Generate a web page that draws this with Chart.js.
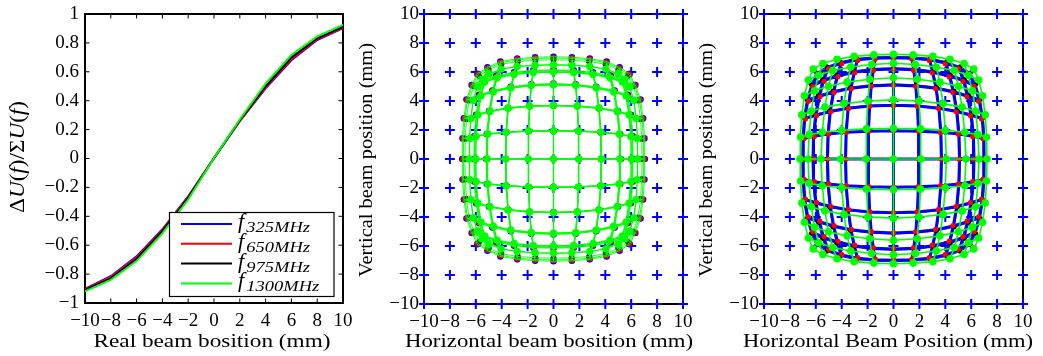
<!DOCTYPE html>
<html>
<head>
<meta charset="utf-8">
<script src="https://cdn.jsdelivr.net/npm/chart.js@4.4.1/dist/chart.umd.min.js"></script>
<style>
  html, body { margin: 0; padding: 0; background: #fff; }
  #wrap { position: relative; width: 1043px; height: 356px; overflow: hidden; background: #fff; }
  #wrap canvas { position: absolute; left: 0; top: 0; }
</style>
</head>
<body>
<div id="wrap">
  <canvas id="c1" width="1043" height="356"></canvas>
  <canvas id="c2" width="1043" height="356"></canvas>
  <canvas id="c3" width="1043" height="356"></canvas>
</div>
<script>
// Real beam positions (mm), shared by every panel
const positions = [-10, -8, -6, -4, -2, 0, 2, 4, 6, 8, 10];
const posTickLabels = ['\u221210', '\u22128', '\u22126', '\u22124', '\u22122', '0', '2', '4', '6', '8', '10'];
const ratioTickLabels = ['\u22121', '\u22120.8', '\u22120.6', '\u22120.4', '\u22120.2', '0', '0.2', '0.4', '0.6', '0.8', '1'];
const freqs = ['325', '650', '975', '1300'];

// Normalised difference signal dU/sumU versus real position
const ratio325  = [-0.903, -0.815, -0.677, -0.490, -0.262, 0.003, 0.258, 0.486, 0.680, 0.820, 0.902];
const ratio650  = [-0.906, -0.820, -0.684, -0.496, -0.266, 0.003, 0.261, 0.491, 0.688, 0.825, 0.906];
const ratio975  = [-0.911, -0.829, -0.695, -0.505, -0.273, 0.003, 0.265, 0.500, 0.700, 0.832, 0.912];
const ratio1300 = [-0.920, -0.840, -0.710, -0.518, -0.284, 0.003, 0.270, 0.518, 0.716, 0.845, 0.924];

// Measured position maps, one quadrant each (the maps are mirror-symmetric).
// row i = |index| on the other axis, column j = |index| along the axis -> measured |position| (mm)
const mapA325 = [
  [0, 1.95, 3.70, 5.20, 6.15, 7.05],
  [0, 1.93, 3.66, 5.15, 6.12, 7.02],
  [0, 1.85, 3.52, 4.98, 5.98, 6.92],
  [0, 1.72, 3.30, 4.72, 5.75, 6.72],
  [0, 1.56, 3.05, 4.42, 5.45, 6.32],
  [0, 1.42, 2.80, 4.10, 5.10, 5.88]
];
const mapA650 = [
  [0, 1.94, 3.68, 5.17, 6.11, 6.96],
  [0, 1.92, 3.64, 5.12, 6.08, 6.93],
  [0, 1.84, 3.50, 4.95, 5.94, 6.84],
  [0, 1.71, 3.28, 4.69, 5.71, 6.64],
  [0, 1.55, 3.03, 4.39, 5.41, 6.25],
  [0, 1.41, 2.78, 4.07, 5.06, 5.82]
];
const mapA975 = [
  [0, 1.93, 3.66, 5.13, 6.06, 6.84],
  [0, 1.91, 3.62, 5.08, 6.03, 6.81],
  [0, 1.83, 3.48, 4.91, 5.89, 6.72],
  [0, 1.70, 3.26, 4.65, 5.66, 6.53],
  [0, 1.54, 3.01, 4.35, 5.36, 6.15],
  [0, 1.40, 2.76, 4.03, 5.01, 5.73]
];
const mapA1300 = [
  [0, 1.95, 3.70, 5.12, 6.00, 6.50],
  [0, 1.93, 3.66, 5.07, 5.97, 6.47],
  [0, 1.85, 3.52, 4.90, 5.83, 6.38],
  [0, 1.72, 3.30, 4.64, 5.60, 6.20],
  [0, 1.56, 3.05, 4.35, 5.31, 5.88],
  [0, 1.42, 2.80, 4.04, 4.97, 5.50]
];
const mapB325 = [
  [0, 1.95, 3.70, 5.10, 6.20, 6.98],
  [0, 1.92, 3.65, 5.04, 6.15, 6.95],
  [0, 1.84, 3.50, 4.88, 5.98, 6.85],
  [0, 1.72, 3.28, 4.62, 5.72, 6.62],
  [0, 1.56, 3.02, 4.32, 5.40, 6.28],
  [0, 1.42, 2.78, 4.02, 5.05, 5.85]
];
const mapB650 = [
  [0, 1.94, 3.68, 5.07, 6.16, 6.93],
  [0, 1.91, 3.63, 5.01, 6.11, 6.90],
  [0, 1.83, 3.48, 4.85, 5.94, 6.80],
  [0, 1.71, 3.26, 4.59, 5.68, 6.57],
  [0, 1.55, 3.00, 4.29, 5.36, 6.23],
  [0, 1.41, 2.76, 3.99, 5.01, 5.80]
];
const mapB975 = [
  [0, 1.98, 3.76, 5.18, 6.30, 7.08],
  [0, 1.95, 3.71, 5.12, 6.25, 7.05],
  [0, 1.87, 3.56, 4.96, 6.08, 6.95],
  [0, 1.75, 3.34, 4.70, 5.82, 6.72],
  [0, 1.59, 3.08, 4.40, 5.50, 6.38],
  [0, 1.45, 2.84, 4.10, 5.15, 5.95]
];
const mapB1300 = [
  [0, 2.12, 4.08, 5.60, 6.60, 7.22],
  [0, 2.08, 4.00, 5.50, 6.52, 7.18],
  [0, 1.98, 3.82, 5.30, 6.35, 7.08],
  [0, 1.84, 3.58, 5.02, 6.10, 6.88],
  [0, 1.68, 3.30, 4.70, 5.78, 6.58],
  [0, 1.52, 3.04, 4.36, 5.45, 6.20]
];

const BLUE = '#0000ff', RED = '#ff0000', BLACK = '#000000', GREEN = '#00ff00';
const SERIF = '"Liberation Serif", "Times New Roman", serif';

// Expand a quadrant map into the full grid of measured points [rowIndex][colIndex]
function fullGrid(q) {
  const n = positions.length, c = (n - 1) / 2;
  const g = [];
  for (let r = 0; r < n; r++) {
    const row = [];
    for (let k = 0; k < n; k++) {
      const a = k - c, b = r - c;
      row.push({
        x: Math.sign(a) * q[Math.abs(b)][Math.abs(a)],
        y: Math.sign(b) * q[Math.abs(a)][Math.abs(b)]
      });
    }
    g.push(row);
  }
  return g;
}
// Rows then columns of the grid as one polyline set, broken by gaps
function gridLines(g) {
  const out = [], n = g.length;
  for (let r = 0; r < n; r++) { for (let k = 0; k < n; k++) out.push(g[r][k]); out.push({ x: NaN, y: NaN }); }
  for (let k = 0; k < n; k++) { for (let r = 0; r < n; r++) out.push(g[r][k]); out.push({ x: NaN, y: NaN }); }
  return out;
}
const realGrid = positions.flatMap(y => positions.map(x => ({ x, y })));

function axis(min, max, step, labels, size, horizontal, pad) {
  return {
    type: 'linear', min, max,
    ticks: {
      stepSize: step, autoSkip: false, maxRotation: 0, minRotation: 0, padding: pad,
      color: '#000', font: { family: SERIF, size: 19 },
      callback: (v, i) => labels[i]
    },
    grid: { display: false, drawTicks: false },
    border: { display: false },
    afterFit: s => {
      if (horizontal) { s.height = size; s.paddingLeft = 0; s.paddingRight = 0; }
      else { s.width = size; s.paddingTop = 0; s.paddingBottom = 0; }
    }
  };
}

// Box frame with inward tick marks on all four sides
const framePlugin = {
  id: 'frame',
  beforeDatasetsDraw(chart) {
    const { ctx, chartArea: a, scales } = chart;
    const t = 4.5;
    ctx.save();
    ctx.strokeStyle = '#000';
    ctx.lineWidth = 1;
    ctx.beginPath();
    scales.x.ticks.forEach(tk => {
      const p = scales.x.getPixelForValue(tk.value);
      ctx.moveTo(p, a.top); ctx.lineTo(p, a.top + t);
      ctx.moveTo(p, a.bottom); ctx.lineTo(p, a.bottom - t);
    });
    scales.y.ticks.forEach(tk => {
      const p = scales.y.getPixelForValue(tk.value);
      ctx.moveTo(a.left, p); ctx.lineTo(a.left + t, p);
      ctx.moveTo(a.right, p); ctx.lineTo(a.right - t, p);
    });
    ctx.stroke();
    ctx.lineWidth = 2;
    ctx.strokeRect(a.left, a.top, a.right - a.left, a.bottom - a.top);
    ctx.restore();
  }
};

// Text made of runs of different fonts, centred at (x, y), stretched to a given width
function drawRuns(ctx, runs, x, y, rot, width) {
  ctx.save();
  ctx.translate(x, y);
  ctx.rotate(rot);
  let w = 0;
  runs.forEach(r => { ctx.font = r.font; w += ctx.measureText(r.t).width; });
  const sx = width ? width / w : 1;
  ctx.scale(sx, 1);
  ctx.fillStyle = '#000';
  ctx.textBaseline = 'middle';
  ctx.textAlign = 'left';
  let cx = -w / 2;
  runs.forEach(r => { ctx.font = r.font; ctx.fillText(r.t, cx, r.dy || 0); cx += ctx.measureText(r.t).width; });
  ctx.restore();
}
const up = (t, s) => ({ t, font: (s || 19) + 'px ' + SERIF });
const it = (t, s) => ({ t, font: 'italic ' + (s || 19) + 'px ' + SERIF });

function titlesPlugin(items) {
  return {
    id: 'titles',
    afterDraw(chart) {
      items.forEach(o => drawRuns(chart.ctx, o.runs, o.x, o.y, o.rot || 0, o.w));
    }
  };
}

const base = {
  responsive: false, animation: false, events: [], devicePixelRatio: 1,
  plugins: { legend: { display: false }, tooltip: { enabled: false } }
};

// ---------- Panel 1: signal ratio vs real position ----------
const ratioSeries = [ratio325, ratio650, ratio975, ratio1300];
const lineColors = [BLUE, RED, BLACK, GREEN];
const p1Sets = ratioSeries.map((s, i) => ({
  label: freqs[i],
  data: positions.map((x, k) => ({ x, y: s[k] })),
  showLine: true, borderColor: lineColors[i], backgroundColor: lineColors[i],
  borderWidth: 2, pointRadius: 0, tension: 0, fill: false
})).reverse();

const legendPlugin = {
  id: 'freqLegend',
  afterDatasetsDraw(chart) {
    const ctx = chart.ctx;
    ctx.save();
    ctx.fillStyle = '#fff';
    ctx.fillRect(169.5, 212.5, 164.5, 84);
    ctx.strokeStyle = '#000';
    ctx.lineWidth = 1.2;
    ctx.strokeRect(169.5, 212.5, 164.5, 84);
    freqs.forEach((f, i) => {
      const y = 224 + i * 19.8;
      ctx.strokeStyle = lineColors[i];
      ctx.lineWidth = 2;
      ctx.beginPath(); ctx.moveTo(181, y); ctx.lineTo(232, y); ctx.stroke();
      ctx.save();
      ctx.translate(238, y);
      ctx.scale(1.1, 1);
      ctx.fillStyle = '#000';
      ctx.textBaseline = 'alphabetic';
      ctx.font = 'italic 20px ' + SERIF;
      ctx.fillText('f', 0, 4);
      const fw = ctx.measureText('f').width + 2;
      ctx.font = 'italic 14px ' + SERIF;
      ctx.save();
      ctx.scale(1.2, 1);
      ctx.fillText(f + 'MHz', fw / 1.2, 8);
      ctx.restore();
      ctx.restore();
    });
    ctx.restore();
  }
};

new Chart(document.getElementById('c1'), {
  type: 'scatter',
  data: { datasets: p1Sets },
  options: Object.assign({}, base, {
    layout: { padding: { left: 0, right: 700, top: 14, bottom: 0 } },
    scales: {
      x: axis(-10, 10, 2, posTickLabels, 53, true, 7),
      y: axis(-1, 1, 0.2, ratioTickLabels, 85, false, 6)
    }
  }),
  plugins: [framePlugin, legendPlugin, titlesPlugin([
    { runs: [up('Real beam bosition (mm)')], x: 212, y: 342, w: 237 },
    { runs: [up('\u0394', 21), it('U', 21), up('(', 21), it('f', 21), up(')/\u03A3', 21), it('U', 21), up('(', 21), it('f', 21), up(')', 21)],
      x: 18.5, y: 157, rot: -Math.PI / 2, w: 112 }
  ])]
});

// ---------- Shared builders for the position-map panels ----------
function markers(g, color, r) {
  return {
    data: g.flat(), showLine: false, pointRadius: r, pointHoverRadius: r,
    pointBackgroundColor: color, pointBorderColor: color, pointBorderWidth: 0,
    backgroundColor: color, borderColor: color
  };
}
function lines(g, color, w) {
  return {
    data: gridLines(g), showLine: true, pointRadius: 0, borderColor: color,
    backgroundColor: color, borderWidth: w, tension: 0, fill: false, spanGaps: false
  };
}
function crosses() {
  return {
    data: realGrid, showLine: false, pointStyle: 'cross', pointRadius: 5, pointHoverRadius: 5,
    pointBorderColor: BLUE, pointBorderWidth: 2, borderColor: BLUE, backgroundColor: BLUE, clip: false
  };
}

// ---------- Panel 2 ----------
const gA = [mapA325, mapA650, mapA975, mapA1300].map(fullGrid);
new Chart(document.getElementById('c2'), {
  type: 'scatter',
  data: {
    datasets: [
      markers(gA[3], GREEN, 3.7),
      lines(gA[3], GREEN, 1.4),
      lines(gA[2], GREEN, 0.9),
      lines(gA[1], GREEN, 0.9),
      lines(gA[0], GREEN, 0.9),
      markers(gA[2], BLACK, 3),
      markers(gA[1], RED, 3.2),
      markers(gA[0], BLUE, 3.3),
      crosses()
    ]
  },
  options: Object.assign({}, base, {
    layout: { padding: { left: 348, right: 360, top: 14, bottom: 0 } },
    scales: {
      x: axis(-10, 10, 2, posTickLabels, 52, true, 7),
      y: axis(-10, 10, 2, posTickLabels, 76, false, 5)
    }
  }),
  plugins: [framePlugin, titlesPlugin([
    { runs: [up('Horizontal beam bosition (mm)')], x: 549, y: 342, w: 288 },
    { runs: [up('Vertical beam position (mm)')], x: 367, y: 160, rot: -Math.PI / 2, w: 234 }
  ])]
});

// ---------- Panel 3 ----------
const gB = [mapB325, mapB650, mapB975, mapB1300].map(fullGrid);
new Chart(document.getElementById('c3'), {
  type: 'scatter',
  data: {
    datasets: [
      markers(gB[3], GREEN, 3.8),
      lines(gB[3], GREEN, 1.6),
      markers(gB[1], RED, 2.6),
      markers(gB[2], BLACK, 2.2),
      lines(gB[0], BLUE, 3),
      lines(gB[2], BLACK, 0.8),
      crosses()
    ]
  },
  options: Object.assign({}, base, {
    layout: { padding: { left: 688, right: 20, top: 14, bottom: 0 } },
    scales: {
      x: axis(-10, 10, 2, posTickLabels, 52, true, 7),
      y: axis(-10, 10, 2, posTickLabels, 76, false, 5)
    }
  }),
  plugins: [framePlugin, titlesPlugin([
    { runs: [up('Horizontal Beam Position (mm)')], x: 888, y: 342, w: 290 },
    { runs: [up('Vertical beam position (mm)')], x: 707, y: 160, rot: -Math.PI / 2, w: 234 }
  ])]
});
</script>
</body>
</html>
